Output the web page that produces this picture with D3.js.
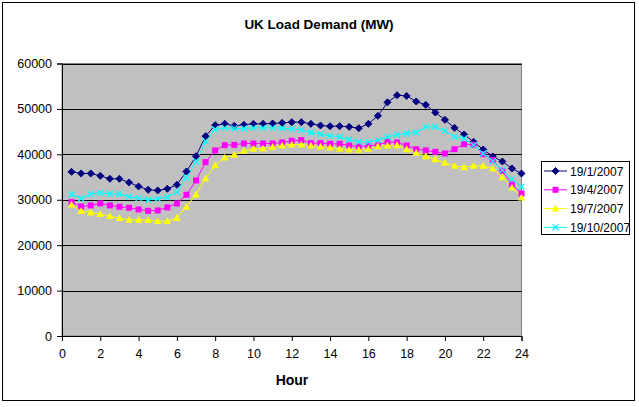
<!DOCTYPE html>
<html><head><meta charset="utf-8">
<script src="https://cdn.jsdelivr.net/npm/d3@7"></script>
<style>body{margin:0;background:#fff}svg{display:block;font-family:"Liberation Sans",Arial,sans-serif}</style>
</head><body><svg id="c" width="639" height="407"></svg>
<script>
const hours = d3.range(1,49).map(i=>i/2);
const seriesNames = ["19/1/2007","19/4/2007","19/7/2007","19/10/2007"];
const jan = [36150,35790,35790,35270,34610,34610,33810,32930,32190,32050,32410,33300,36230,39600,44000,46420,46710,46270,46490,46710,46710,46790,46930,47080,47080,46710,46350,46200,46200,46050,45760,46710,48470,51450,53020,52870,51630,50890,49210,47590,45830,44370,42750,41070,39530,38430,36890,35790];
const apr = [29480,28530,28750,29190,28750,28450,28230,27870,27570,27650,28310,29190,31090,34250,38280,40850,42020,42090,42390,42390,42390,42390,42610,42970,43120,42460,42460,42310,42310,41950,41730,41870,42090,42750,42610,41950,41140,40850,40550,40190,41140,42240,42100,40040,38720,36370,33370,31390];
const jul = [28970,27500,27210,26840,26400,25960,25590,25590,25520,25300,25300,26000,28450,31170,34690,37620,39310,39890,40770,41210,41290,41650,41950,42170,42170,41950,41730,41510,41210,41070,40990,41210,41800,41950,42020,41140,40330,39600,38940,38130,37470,37180,37470,37470,36890,34980,32710,30510];
const oct = [31170,30290,31240,31530,31310,31240,30650,30360,29990,30210,30580,31680,34910,38430,42830,45540,45830,45690,45690,45830,45830,45830,45760,45610,45390,44810,44440,44070,43850,43270,42750,42750,43120,43850,44300,44590,44810,46050,46050,45170,43850,43490,42020,40190,38500,36520,34540,32850];
const xTicks = d3.range(0,25,2);
const yTicks = d3.range(0,60001,10000);
const colors = ["#000080","#FF00FF","#FFFF00","#00FFFF"];
const markers = ["diamond","square","triangle","cross"];
const allSeries = [jan,apr,jul,oct];

const svg = d3.select("#c");
const L=62,R=521.5,T=63.5,B=336;
const x = d3.scaleLinear().domain([0,24]).range([L,R]);
const y = d3.scaleLinear().domain([0,60000]).range([B,T]);

svg.append("rect").attr("x",2.5).attr("y",2.5).attr("width",632).attr("height",398).attr("fill","#fff").attr("stroke","#000");
svg.append("rect").attr("x",L).attr("y",T).attr("width",R-L).attr("height",B-T).attr("fill","#C0C0C0").attr("stroke","#808080");
svg.append("g").selectAll("line").data(yTicks.slice(1)).join("line")
  .attr("x1",L).attr("x2",R).attr("y1",d=>Math.round(y(d))+0.5).attr("y2",d=>Math.round(y(d))+0.5).attr("stroke","#000");

const yAxis = svg.append("g").attr("transform",`translate(${L},0)`).call(d3.axisLeft(y).tickValues(yTicks).tickSize(5).tickPadding(5).tickFormat(d3.format("d")));
const xAxis = svg.append("g").attr("transform",`translate(0,${B})`).call(d3.axisBottom(x).tickValues(xTicks).tickSize(5).tickPadding(8).tickFormat(d3.format("d")));
[yAxis,xAxis].forEach(a=>{a.select(".domain").attr("stroke","#000");a.selectAll("line").attr("stroke","#000");a.selectAll("text").attr("fill","#000").style("font-size","12.5px").style("font-family","Liberation Sans, Arial, sans-serif");});

function marker(g,type,color){
  if(type==="diamond") g.append("path").attr("d","M0,-3.5L3.5,0L0,3.5L-3.5,0Z").attr("fill",color).attr("stroke",color);
  else if(type==="square") g.append("rect").attr("x",-3).attr("y",-3).attr("width",6).attr("height",6).attr("fill",color);
  else if(type==="triangle") g.append("path").attr("d","M0,-3.8L3.8,3L-3.8,3Z").attr("fill",color);
  else g.append("path").attr("d","M-3,-3L3,3M-3,3L3,-3").attr("stroke",color).attr("stroke-width",1.3).attr("fill","none");
}
const line = d3.line().x((d,i)=>x(hours[i])).y(d=>y(d));
allSeries.forEach((s,k)=>{
  svg.append("path").datum(s).attr("d",line).attr("fill","none").attr("stroke",colors[k]).attr("stroke-width",1);
});
allSeries.forEach((s,k)=>{
  svg.append("g").selectAll("g").data(s).join("g").attr("transform",(d,i)=>`translate(${x(hours[i])},${y(d)})`).each(function(){marker(d3.select(this),markers[k],colors[k]);});
});

svg.append("text").attr("x",319).attr("y",29).attr("text-anchor","middle").style("font-size","13.5px").style("font-weight","bold").text("UK Load Demand (MW)");
svg.append("text").attr("x",292).attr("y",385).attr("text-anchor","middle").style("font-size","14px").style("font-weight","bold").text("Hour");

const lg = svg.append("g");
lg.append("rect").attr("x",541.5).attr("y",161.5).attr("width",88).attr("height",73).attr("fill","#fff").attr("stroke","#000");
seriesNames.forEach((n,k)=>{
  const yy = 171 + k*18.8;
  lg.append("line").attr("x1",544).attr("x2",567).attr("y1",yy).attr("y2",yy).attr("stroke",colors[k]);
  marker(lg.append("g").attr("transform",`translate(555.5,${yy})`),markers[k],colors[k]);
  lg.append("text").attr("x",570).attr("y",yy+4.5).style("font-size","12px").text(n);
});
</script></body></html>
